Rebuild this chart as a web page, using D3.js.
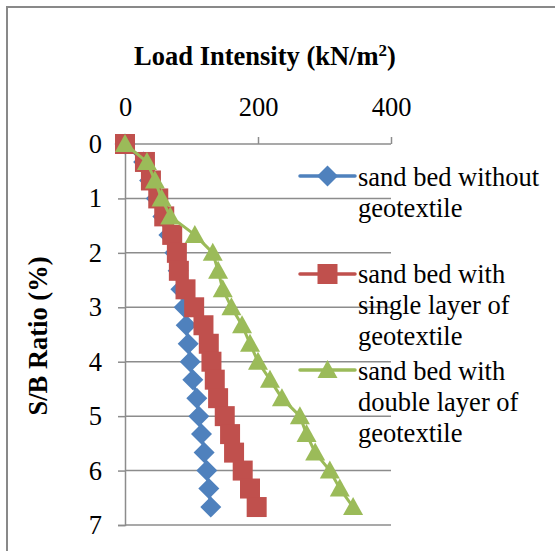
<!DOCTYPE html>
<html>
<head>
<meta charset="utf-8">
<script src="https://cdn.jsdelivr.net/npm/d3@7"></script>
<style>
  body { margin: 0; background: #fff; }
  text { font-family: "Liberation Serif", "Times New Roman", serif; fill: #000; }
</style>
</head>
<body>
<div id="chart"></div>
<script>
var sbRatio = [0, 0.33, 0.67, 1, 1.33, 1.67, 2, 2.33, 2.67, 3, 3.33, 3.67, 4, 4.33, 4.67, 5, 5.33, 5.67, 6, 6.33, 6.67]
var withoutGeo = [0, 28, 37, 47, 57, 66, 75, 80, 84, 89, 92, 95, 98, 102, 108, 111, 115, 119, 123, 126, 129]
var singleGeo = [0, 30, 39, 50, 59, 71, 78, 81, 91, 104, 118, 126, 130, 135, 140, 150, 158, 164, 177, 188, 198]
var doubleGeo = [0, 33, 45, 55, 68, 105, 132, 140, 147, 160, 176, 188, 200, 218, 236, 263, 273, 286, 308, 323, 343]

var xTicks = [0, 200, 400]
var yTicks = [0, 1, 2, 3, 4, 5, 6, 7]

var seriesNames = [
  ["sand bed without", "geotextile"],
  ["sand bed with", "single layer of", "geotextile"],
  ["sand bed with", "double layer of", "geotextile"]
]
var seriesColors = ["#4F81BD", "#C0504D", "#9BBB59"]

var width = 555, height = 551
var fontSize = 26.5

var svg = d3.select("#chart").append("svg")
    .attr("width", width)
    .attr("height", height)

// outer chart border (cropped at right and bottom)
svg.append("rect")
  .attr("x", 7).attr("y", 7)
  .attr("width", 560).attr("height", 560)
  .attr("fill", "none")
  .attr("stroke", "#898989")
  .attr("stroke-width", 2)

var xPositionScale = d3.scaleLinear().domain([0, 400]).range([125, 391])
var yPositionScale = d3.scaleLinear().domain([0, 7]).range([144, 525])

// horizontal gridlines
svg.append("g").selectAll("line")
  .data(yTicks)
  .enter().append("line")
  .attr("x1", xPositionScale(0))
  .attr("x2", xPositionScale(400))
  .attr("y1", function(d) { return yPositionScale(d) })
  .attr("y2", function(d) { return yPositionScale(d) })
  .attr("stroke", "#8c8c8c")
  .attr("stroke-width", 1.5)

// axes
var yAxis = d3.axisLeft(yPositionScale).tickValues(yTicks).tickFormat(d3.format("d")).tickSize(7).tickPadding(16)
var yG = svg.append("g").attr("class", "axis y-axis")
  .attr("transform", "translate(" + xPositionScale(0) + ",0)")
  .call(yAxis)

var xAxis = d3.axisTop(xPositionScale).tickValues(xTicks).tickFormat(d3.format("d")).tickSize(7).tickPadding(21)
var xG = svg.append("g").attr("class", "axis x-axis")
  .attr("transform", "translate(0," + yPositionScale(0) + ")")
  .call(xAxis)

svg.selectAll(".axis .domain").attr("stroke", "#8c8c8c").attr("stroke-width", 1.5)
xG.select(".domain").remove()
svg.selectAll(".axis .tick line").attr("stroke", "#8c8c8c").attr("stroke-width", 1.5)
svg.selectAll(".axis text")
  .style("font-family", '"Liberation Serif", "Times New Roman", serif')
  .style("font-size", fontSize + "px")
  .attr("fill", "#000")

// axis titles
var title = svg.append("text")
  .attr("x", 265).attr("y", 65)
  .attr("text-anchor", "middle")
  .style("font-size", fontSize + "px")
  .style("font-weight", "bold")
title.append("tspan").text("Load Intensity (kN/m")
title.append("tspan").text("2").style("font-size", "17px").attr("dy", -9)
title.append("tspan").text(")").attr("dy", 9)

svg.append("text")
  .attr("transform", "translate(47,336) rotate(-90)")
  .attr("text-anchor", "middle")
  .style("font-size", fontSize + "px")
  .style("font-weight", "bold")
  .text("S/B Ratio (%)")

// markers
var diamond = "M0,-10.5L10.5,0L0,10.5L-10.5,0Z"
var square = "M-10,-10L10,-10L10,10L-10,10Z"
var triangle = "M0,-10L10,8L-10,8Z"
var markerPaths = [diamond, square, triangle]

var allSeries = [withoutGeo, singleGeo, doubleGeo]

var line = d3.line()
  .x(function(d) { return xPositionScale(d.v) })
  .y(function(d) { return yPositionScale(d.s) })

allSeries.forEach(function(values, i) {
  var points = values.map(function(v, j) { return { v: v, s: sbRatio[j] } })
  var g = svg.append("g")
  g.append("path")
    .datum(points)
    .attr("d", line)
    .attr("fill", "none")
    .attr("stroke", seriesColors[i])
    .attr("stroke-width", 3)
  g.selectAll("path.marker")
    .data(points)
    .enter().append("path")
    .attr("class", "marker")
    .attr("d", markerPaths[i])
    .attr("transform", function(d) { return "translate(" + xPositionScale(d.v) + "," + yPositionScale(d.s) + ")" })
    .attr("fill", seriesColors[i])
})

// legend
var legendY = [176, 274, 370]
var legendBaselines = [[186, 217], [283, 314, 345], [380, 411, 442]]

seriesNames.forEach(function(lines, i) {
  var g = svg.append("g")
  g.append("line")
    .attr("x1", 300).attr("x2", 355)
    .attr("y1", legendY[i]).attr("y2", legendY[i])
    .attr("stroke", seriesColors[i])
    .attr("stroke-width", 3.5)
    .attr("stroke-linecap", "round")
  g.append("path")
    .attr("d", markerPaths[i])
    .attr("transform", "translate(327.5," + legendY[i] + ")")
    .attr("fill", seriesColors[i])
  g.selectAll("text")
    .data(lines)
    .enter().append("text")
    .attr("x", 358)
    .attr("y", function(d, j) { return legendBaselines[i][j] })
    .style("font-size", fontSize + "px")
    .text(function(d) { return d })
})
</script>
</body>
</html>
